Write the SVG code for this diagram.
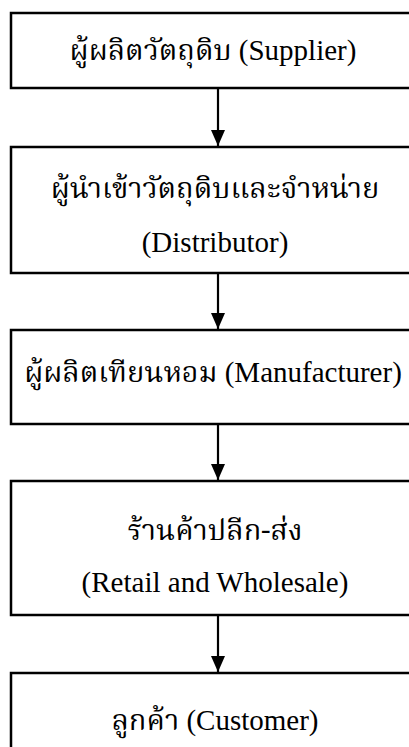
<svg xmlns="http://www.w3.org/2000/svg" width="409" height="747" viewBox="0 0 409 747">
<defs>
<style>
.box{fill:#fff;stroke:#000;stroke-width:2.5}
.lbl{font-family:"Times New Roman","Liberation Serif",serif;font-size:29px;fill:#000;text-anchor:middle}
.th{font-family:"Noto Serif Thai","Noto Sans Thai","Liberation Serif",serif}
.edge{stroke:#000;stroke-width:2.2;fill:none}
</style>
<marker id="ah" markerUnits="userSpaceOnUse" markerWidth="16" markerHeight="14" refX="16" refY="7" orient="auto" viewBox="0 0 16 14">
<path d="M0,0 L16,7 L0,14 Z" fill="#000"/>
</marker>
</defs>
<rect width="409" height="747" fill="#fff"/>
<g id="connectors">
<line class="edge" x1="218" y1="88" x2="218" y2="146" marker-end="url(#ah)"/>
<line class="edge" x1="218" y1="273" x2="218" y2="329" marker-end="url(#ah)"/>
<line class="edge" x1="218" y1="424" x2="218" y2="480" marker-end="url(#ah)"/>
<line class="edge" x1="218" y1="615" x2="218" y2="672" marker-end="url(#ah)"/>
</g>
<g id="supplier">
<rect class="box" x="11" y="13" width="420" height="75"/>
<text class="lbl" x="213" y="60"><tspan class="th">ผู้ผลิตวัตถุดิบ</tspan> (Supplier)</text>
</g>
<g id="distributor">
<rect class="box" x="11" y="147" width="420" height="126"/>
<text class="lbl th" x="215" y="198">ผู้นำเข้าวัตถุดิบและจำหน่าย</text>
<text class="lbl" x="215" y="252">(Distributor)</text>
</g>
<g id="manufacturer">
<rect class="box" x="11" y="330" width="420" height="94"/>
<text class="lbl" x="213" y="382"><tspan class="th">ผู้ผลิตเทียนหอม</tspan> (Manufacturer)</text>
</g>
<g id="retail">
<rect class="box" x="11" y="481" width="420" height="134"/>
<text class="lbl th" x="215" y="540">ร้านค้าปลีก-ส่ง</text>
<text class="lbl" x="215" y="592">(Retail and Wholesale)</text>
</g>
<g id="customer">
<rect class="box" x="11" y="673" width="420" height="90"/>
<text class="lbl" x="215" y="730"><tspan class="th">ลูกค้า</tspan> (Customer)</text>
</g>
</svg>
